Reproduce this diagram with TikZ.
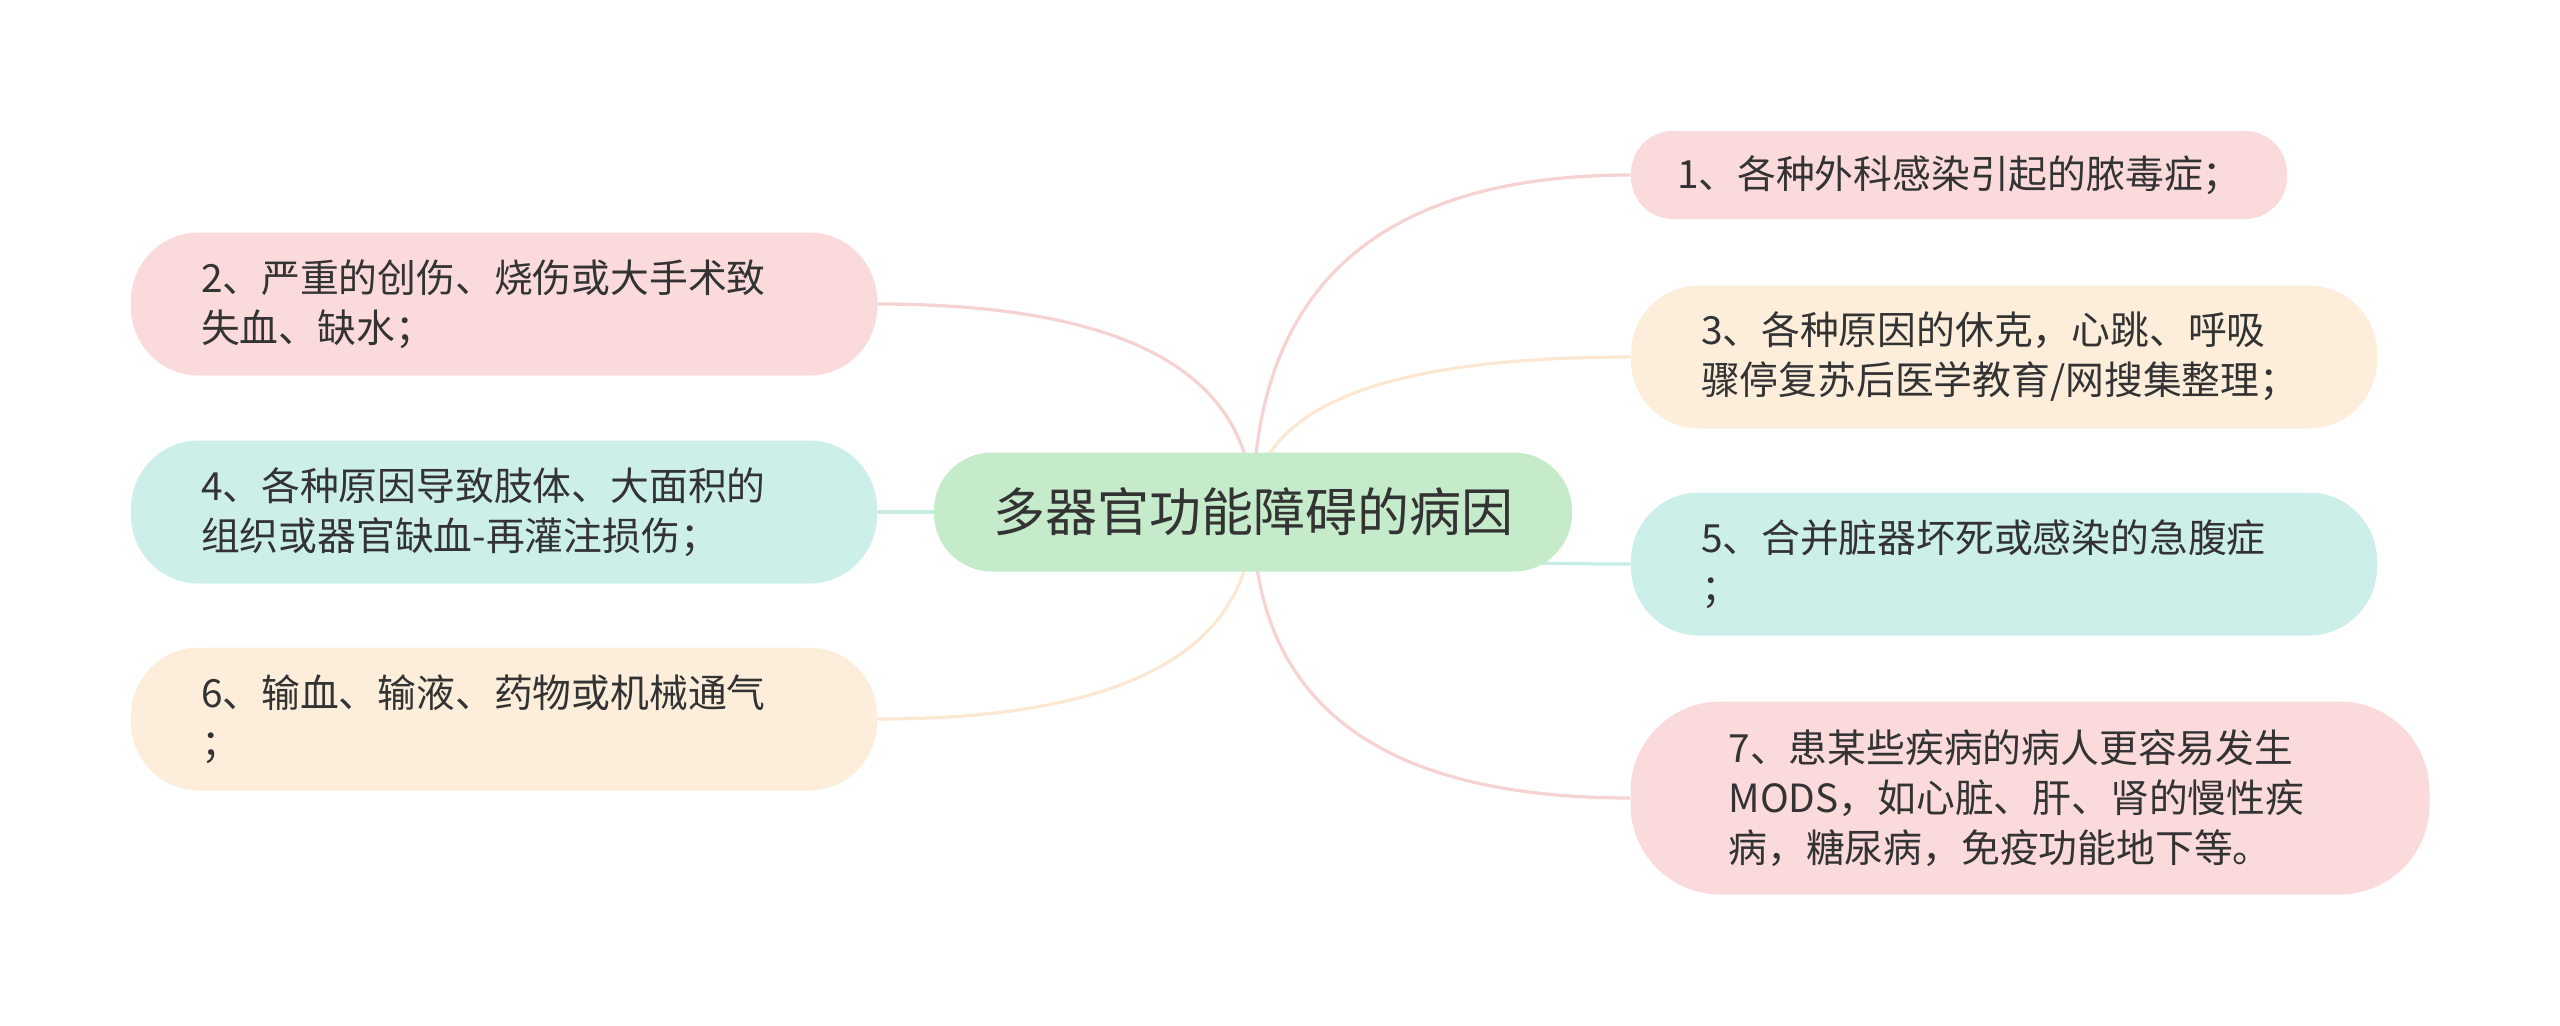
\documentclass[tikz,border=0pt]{standalone}
\usepackage{fontspec}
\setmainfont{Noto Sans CJK SC}
\usetikzlibrary{calc,backgrounds}
\definecolor{pinkbox}{HTML}{FADADB}
\definecolor{creambox}{HTML}{FDEEDC}
\definecolor{cyanbox}{HTML}{CCEFEA}
\definecolor{greenbox}{HTML}{C5EBCA}
\definecolor{pinkline}{HTML}{F6D2D2}
\definecolor{creamline}{HTML}{FCE8D2}
\definecolor{cyanline}{HTML}{C6ECE6}
\definecolor{textgray}{HTML}{333333}

\begin{document}
\begin{tikzpicture}[x=0.5pt, y=-0.5pt]
	\tikzstyle{root} = [fill=greenbox, rounded corners=29pt, minimum width=319pt, minimum height=59.5pt, text=textgray, font=\fontsize{26}{32}\selectfont]
	\tikzstyle{leaf} = [rounded corners=34pt, minimum height=71.5pt, inner xsep=35pt, text width=303pt, align=left, text=textgray, font=\fontsize{19.4}{25}\selectfont]
	\tikzstyle{edge} = [line width=1.6pt]
	\useasboundingbox (0,0) rectangle (2560,1025);

	\node[root] (root) at (1253,512) {多器官功能障碍的病因};

	% right side
	\node[leaf, fill=pinkbox, minimum height=44pt, inner xsep=23pt, text width=282pt, rounded corners=21pt] (c1) at (1959,175) {1、各种外科感染引起的脓毒症；};
	\node[leaf, fill=creambox] (c3) at (2004,357) {3、各种原因的休克，心跳、呼吸\\骤停复苏后医学教育/网搜集整理；};
	\node[leaf, fill=cyanbox] (c5) at (2004,564) {5、合并脏器坏死或感染的急腹症\\；};
	\node[leaf, fill=pinkbox, minimum height=96.5pt, inner xsep=49pt, text width=301.5pt, rounded corners=45pt] (c7) at (2030,798) {7、患某些疾病的病人更容易发生\\MODS，如心脏、肝、肾的慢性疾\\病，糖尿病，免疫功能地下等。};

	% left side
	\node[leaf, fill=pinkbox] (c2) at (504,304) {2、严重的创伤、烧伤或大手术致\\失血、缺水；};
	\node[leaf, fill=cyanbox] (c4) at (504,512) {4、各种原因导致肢体、大面积的\\组织或器官缺血-再灌注损伤；};
	\node[leaf, fill=creambox] (c6) at (504,719) {6、输血、输液、药物或机械通气\\；};

	\begin{pgfonlayer}{background}
	\foreach \to/\col in {c1/pinkline, c3/creamline, c5/cyanline, c7/pinkline}
		\draw[edge, draw=\col] (root.center) .. controls ($(root.center)!2/3!(root.center |- \to.west)$) and ($(\to.west)!2/3!(root.center |- \to.west)$) .. (\to.west);
	\foreach \to/\col in {c2/pinkline, c4/cyanline, c6/creamline}
		\draw[edge, draw=\col] (root.center) .. controls ($(root.center)!2/3!(root.center |- \to.east)$) and ($(\to.east)!2/3!(root.center |- \to.east)$) .. (\to.east);
	\end{pgfonlayer}
\end{tikzpicture}
\end{document}
